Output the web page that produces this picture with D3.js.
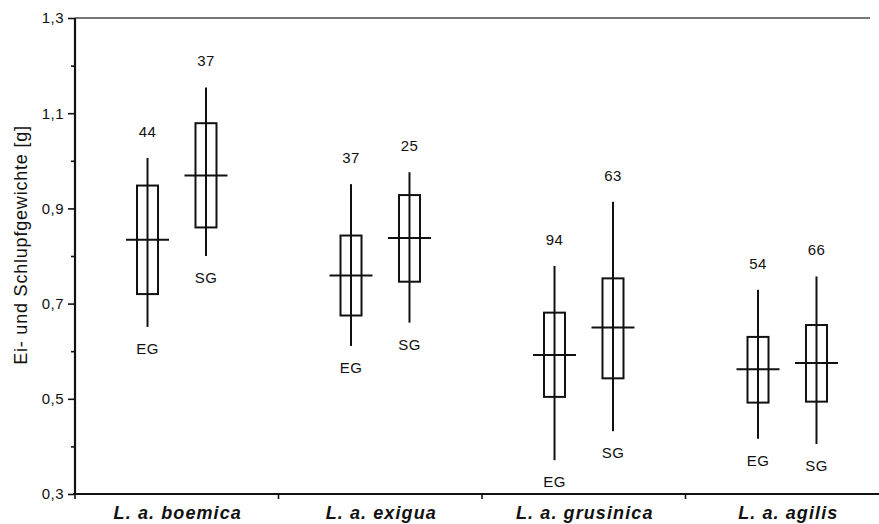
<!DOCTYPE html>
<html>
<head>
<meta charset="utf-8">
<script src="https://cdn.jsdelivr.net/npm/d3@7"></script>
<style>
  body { margin: 0; background: #fff; }
  text { font-family: "Liberation Sans", Arial, sans-serif; fill: #111; }
</style>
</head>
<body>
<svg width="879" height="524"></svg>
<script>
// groups along x, two stages each (egg weight / hatchling weight)
var groups = ["L. a. boemica", "L. a. exigua", "L. a. grusinica", "L. a. agilis"];
var stages = ["EG", "SG"];

// per group: [EG, SG]
var nCount   = [[44, 37], [37, 25], [94, 63], [54, 66]];
var whiskHi  = [[1.006, 1.154], [0.951, 0.976], [0.779, 0.914], [0.729, 0.757]];
var boxHi    = [[0.948, 1.079], [0.843, 0.928], [0.681, 0.753], [0.630, 0.655]];
var means    = [[0.834, 0.969], [0.759, 0.838], [0.592, 0.650], [0.562, 0.575]];
var boxLo    = [[0.720, 0.860], [0.675, 0.746], [0.504, 0.543], [0.492, 0.494]];
var whiskLo  = [[0.651, 0.800], [0.611, 0.660], [0.371, 0.432], [0.416, 0.405]];

var yTicks = [0.3, 0.4, 0.5, 0.6, 0.7, 0.8, 0.9, 1.0, 1.1, 1.2, 1.3];
var yLabels = [0.3, 0.5, 0.7, 0.9, 1.1, 1.3];

function makeChart() {
    var svg = d3.select("svg");
    var pxL = 75, pxT = 18, pxB = 494;

    var scX = d3.scaleBand().domain(groups).range([pxL, pxL + 4 * 203.5]);
    var scS = d3.scaleBand().domain(stages).range([0, scX.bandwidth()]).paddingInner(0.5).paddingOuter(0.99);
    var scY = d3.scaleLinear().domain([0.3, 1.3]).range([pxB, pxT]);

    // flatten into one record per box
    var data = [];
    groups.forEach(function (g, i) {
        stages.forEach(function (s, j) {
            data.push({
                g: g, s: s, n: nCount[i][j],
                wh: whiskHi[i][j], bh: boxHi[i][j], m: means[i][j],
                bl: boxLo[i][j], wl: whiskLo[i][j]
            });
        });
    });
    var cx = d => scX(d.g) + scS(d.s) + scS.bandwidth() / 2;
    var isLab = v => yLabels.some(l => Math.abs(l - v) < 1e-6);

    // top frame line
    svg.append("line")
        .attr("x1", pxL).attr("x2", 870)
        .attr("y1", pxT).attr("y2", pxT)
        .attr("stroke", "#777").attr("stroke-width", 2);

    // y axis
    var yAxis = svg.append("g").attr("transform", "translate(" + pxL + ",0)")
        .call(d3.axisLeft(scY).tickValues(yTicks).tickSize(4)
            .tickFormat(v => isLab(v) ? d3.format(".1f")(v).replace(".", ",") : ""));
    yAxis.select(".domain").attr("stroke", "#111").attr("stroke-width", 2.2).attr("d", "M0," + pxT + "V" + pxB);
    yAxis.selectAll(".tick line").attr("stroke", "#111").attr("stroke-width", 1.6)
        .attr("x2", v => isLab(v) ? -7 : -4);
    yAxis.selectAll(".tick text").attr("x", -11)
        .style("font-size", "15px").style("letter-spacing", "0.5px")
        .style("font-family", "Liberation Sans, Arial, sans-serif")
        .attr("fill", "#222");

    // x axis with ticks at group boundaries
    var xAxis = svg.append("g").attr("transform", "translate(0," + pxB + ")");
    xAxis.append("line").attr("x1", pxL - 2).attr("x2", 879)
        .attr("stroke", "#111").attr("stroke-width", 2.2);
    xAxis.selectAll(".sep").data(groups).enter().append("line")
        .attr("class", "sep")
        .attr("x1", d => scX(d)).attr("x2", d => scX(d))
        .attr("y1", 0).attr("y2", 5)
        .attr("stroke", "#111").attr("stroke-width", 1.6);
    xAxis.selectAll(".glab").data(groups).enter().append("text")
        .attr("class", "glab")
        .attr("x", d => scX(d) + scX.bandwidth() / 2 + 1)
        .attr("y", 25)
        .attr("text-anchor", "middle")
        .style("font-size", "18px").style("font-weight", "bold").style("font-style", "italic")
        .style("letter-spacing", "1.1px")
        .text(d => d);

    // y title
    svg.append("text")
        .attr("transform", "translate(27,245) rotate(-90)")
        .attr("text-anchor", "middle")
        .style("font-size", "18px").style("letter-spacing", "0.8px")
        .text("Ei- und Schlupfgewichte [g]");

    // boxes
    var marks = svg.append("g").attr("stroke", "#111").attr("stroke-width", 2).attr("fill", "none");
    marks.selectAll(".wh").data(data).enter().append("line")
        .attr("x1", cx).attr("x2", cx)
        .attr("y1", d => scY(d.wh)).attr("y2", d => scY(d.wl));
    marks.selectAll(".bx").data(data).enter().append("rect")
        .attr("x", d => cx(d) - 10.5).attr("width", 21)
        .attr("y", d => scY(d.bh)).attr("height", d => scY(d.bl) - scY(d.bh));
    marks.selectAll(".mn").data(data).enter().append("line")
        .attr("x1", d => cx(d) - 21.5).attr("x2", d => cx(d) + 21.5)
        .attr("y1", d => scY(d.m)).attr("y2", d => scY(d.m));

    // sample sizes above, stage labels below
    svg.selectAll(".nlab").data(data).enter().append("text")
        .attr("class", "nlab")
        .attr("x", cx).attr("y", d => scY(d.wh) - 21)
        .attr("text-anchor", "middle")
        .style("font-size", "15px").style("letter-spacing", "0.5px")
        .text(d => d.n);
    svg.selectAll(".slab").data(data).enter().append("text")
        .attr("class", "slab")
        .attr("x", cx).attr("y", d => scY(d.wl) + 27)
        .attr("text-anchor", "middle")
        .style("font-size", "15px").style("letter-spacing", "0.5px")
        .text(d => d.s);
}

makeChart();
</script>
</body>
</html>
